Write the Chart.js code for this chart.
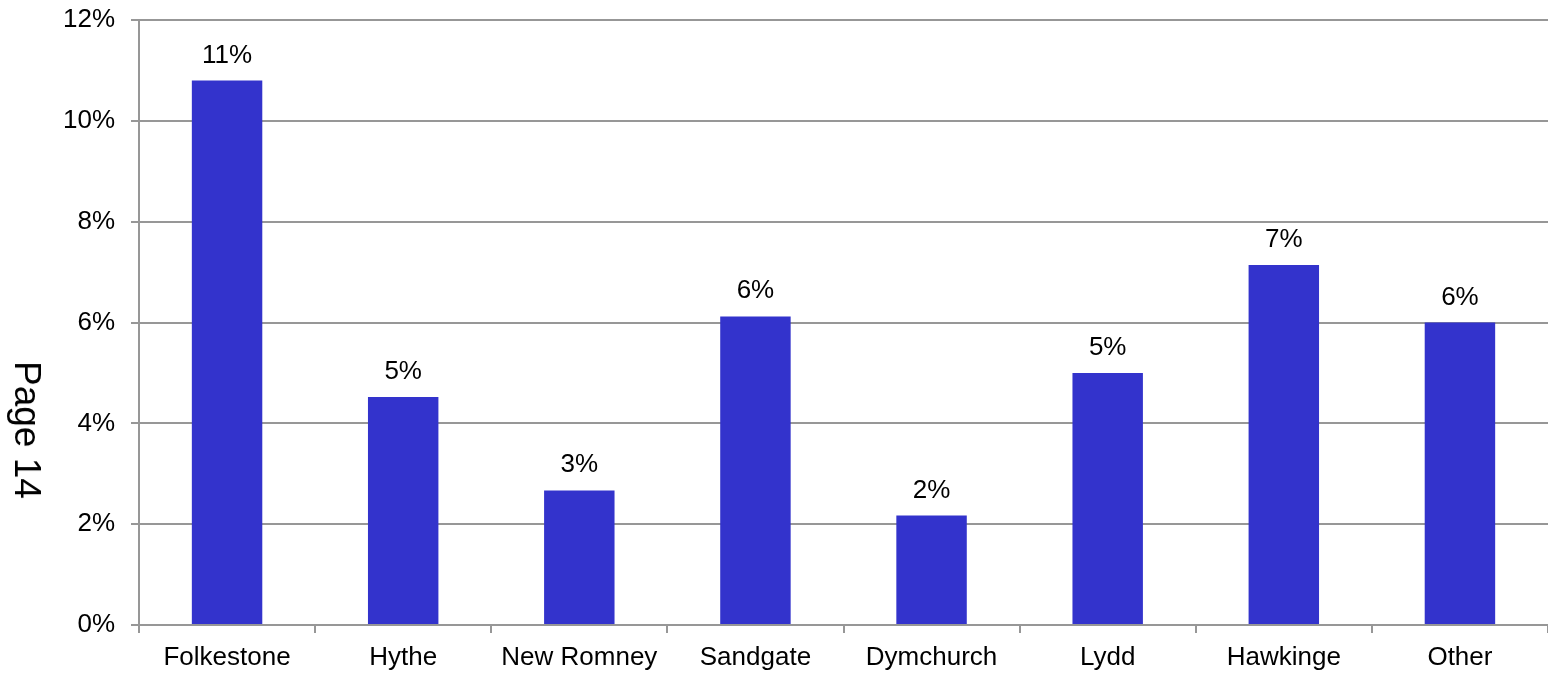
<!DOCTYPE html>
<html>
<head>
<meta charset="utf-8">
<script src="https://cdn.jsdelivr.net/npm/chart.js@4/dist/chart.umd.min.js"></script>
<style>
    html, body { margin: 0; padding: 0; background: #fff; }
    #wrap { position: relative; width: 1548px; height: 673px; }
    #page_label {
        position: absolute;
        left: 27px;
        top: 430px;
        transform: translate(-50%, -50%) rotate(90deg);
        font-family: "Liberation Sans", Arial, sans-serif;
        font-size: 37px;
        color: #000;
        white-space: nowrap;
    }
</style>
</head>
<body>
<div id="wrap">
    <canvas id="towns_chart" width="1548" height="673"></canvas>
    <div id="page_label">Page 14</div>
</div>
<script>
// Data
var towns = ["Folkestone", "Hythe", "New Romney", "Sandgate", "Dymchurch", "Lydd", "Hawkinge", "Other"];
var shares = [10.8, 4.52, 2.67, 6.12, 2.17, 5.0, 7.14, 6.0];
var yTicks = [0, 2, 4, 6, 8, 10, 12];

var fontFamily = "'Liberation Sans', Arial, sans-serif";
var gridColor = "#979797";

// Value labels above the bars
var valueLabels = {
    id: "valueLabels",
    afterDatasetsDraw: function (chart) {
        var ctx = chart.ctx;
        var meta = chart.getDatasetMeta(0);
        ctx.save();
        ctx.font = "26px " + fontFamily;
        ctx.fillStyle = "#000";
        ctx.textAlign = "center";
        ctx.textBaseline = "alphabetic";
        meta.data.forEach(function (bar, i) {
            ctx.fillText(Math.round(shares[i]) + "%", bar.x, bar.y - 18);
        });
        ctx.restore();
    }
};

function init_towns_chart() {
    var ctx = document.getElementById("towns_chart").getContext("2d");

    new Chart(ctx, {
        type: "bar",
        data: {
            labels: towns,
            datasets: [{
                data: shares,
                backgroundColor: "#3333CC",
                borderWidth: 0,
                categoryPercentage: 1,
                barPercentage: 0.4
            }]
        },
        options: {
            responsive: false,
            animation: false,
            layout: { padding: 0 },
            plugins: {
                legend: { display: false },
                tooltip: { enabled: false }
            },
            scales: {
                x: {
                    afterFit: function (scale) {
                        scale.height = 48;
                        scale.paddingLeft = 0;
                        scale.paddingRight = 0;
                    },
                    grid: {
                        offset: true,
                        drawOnChartArea: false,
                        drawTicks: true,
                        tickLength: 8,
                        color: gridColor,
                        lineWidth: 2
                    },
                    border: { color: gridColor, width: 2 },
                    ticks: {
                        color: "#000",
                        padding: 9,
                        maxRotation: 0,
                        autoSkip: false,
                        font: { family: fontFamily, size: 26 }
                    }
                },
                y: {
                    min: 0,
                    max: 12,
                    afterFit: function (scale) {
                        scale.width = 139;
                        scale.paddingTop = 20;
                        scale.paddingBottom = 0;
                    },
                    afterBuildTicks: function (scale) {
                        scale.ticks = yTicks.map(function (v) { return { value: v }; });
                    },
                    grid: {
                        color: gridColor,
                        lineWidth: 2,
                        tickLength: 8
                    },
                    border: { color: gridColor, width: 2 },
                    ticks: {
                        color: "#000",
                        padding: 16,
                        font: { family: fontFamily, size: 26 },
                        callback: function (v) { return v + "%"; }
                    }
                }
            }
        },
        plugins: [valueLabels]
    });
}

init_towns_chart();
</script>
</body>
</html>
